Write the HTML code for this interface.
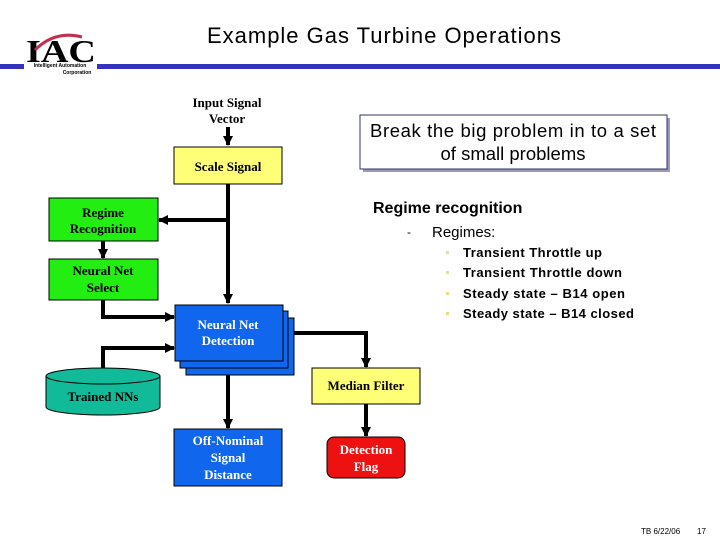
<!DOCTYPE html>
<html><head><style>
body{margin:0;background:#fff;width:720px;height:540px;overflow:hidden}
svg{display:block}
.s{font-family:"Liberation Serif",serif;font-weight:bold;font-size:13px}
.a{font-family:"Liberation Sans",sans-serif}
</style></head><body>
<svg width="720" height="540" viewBox="0 0 720 540" xmlns="http://www.w3.org/2000/svg">
<defs><marker id="m" markerWidth="10" markerHeight="10" refX="9" refY="5" orient="auto" markerUnits="userSpaceOnUse"><path d="M0,0 L10,5 L0,10z" fill="#000"/></marker></defs>
<!-- header -->
<text x="384" y="43" text-anchor="middle" class="a" font-size="22" fill="#000" textLength="354">Example Gas Turbine Operations</text>
<rect x="0" y="64" width="720" height="5" fill="#3333bb"/>
<rect x="24" y="60" width="73" height="18" fill="#fff"/>
<text x="61" y="62" text-anchor="middle" font-family="Liberation Serif,serif" font-weight="bold" font-size="32" fill="#000" textLength="70" lengthAdjust="spacingAndGlyphs">IAC</text>
<path d="M35,50 Q55,30 82,37" stroke="#c03050" stroke-width="3" fill="none"/>
<text x="60" y="67" text-anchor="middle" class="a" font-size="5" font-weight="bold">Intelligent Automation</text>
<text x="77" y="74" text-anchor="middle" class="a" font-size="5" font-weight="bold">Corporation</text>
<!-- input -->
<text x="227" y="107" text-anchor="middle" class="s">Input Signal</text>
<text x="227" y="123" text-anchor="middle" class="s">Vector</text>
<g stroke="#000" stroke-width="4" fill="none">
<line x1="228" y1="127" x2="228" y2="145" marker-end="url(#m)"/>
<line x1="228" y1="184" x2="228" y2="303" marker-end="url(#m)"/>
<line x1="228" y1="220" x2="159" y2="220" marker-end="url(#m)"/>
<line x1="103" y1="241" x2="103" y2="258" marker-end="url(#m)"/>
<polyline points="103,300 103,317 174,317" marker-end="url(#m)"/>
<polyline points="103,370 103,348 174,348" marker-end="url(#m)"/>
<polyline points="283,333 366,333 366,367" marker-end="url(#m)"/>
<line x1="366" y1="404" x2="366" y2="436" marker-end="url(#m)"/>
<line x1="228" y1="361" x2="228" y2="428" marker-end="url(#m)"/>
</g>
<rect x="174" y="147" width="108" height="37" fill="#ffff77" stroke="#000"/>
<text x="228" y="171" text-anchor="middle" class="s">Scale Signal</text>
<rect x="49" y="198" width="109" height="43" fill="#22ee11" stroke="#000"/>
<text x="103" y="217" text-anchor="middle" class="s">Regime</text>
<text x="103" y="233" text-anchor="middle" class="s">Recognition</text>
<rect x="49" y="259" width="109" height="41" fill="#22ee11" stroke="#000"/>
<text x="103" y="275" text-anchor="middle" class="s">Neural Net</text>
<text x="103" y="292" text-anchor="middle" class="s">Select</text>
<rect x="186" y="318" width="108" height="57" fill="#1166ee" stroke="#000"/>
<rect x="180" y="311" width="108" height="57" fill="#1166ee" stroke="#000"/>
<rect x="175" y="305" width="108" height="56" fill="#1166ee" stroke="#000"/>
<text x="228" y="329" text-anchor="middle" class="s" fill="#fff">Neural Net</text>
<text x="228" y="345" text-anchor="middle" class="s" fill="#fff">Detection</text>
<path d="M46,376 L46,407 A57,8 0 0 0 160,407 L160,376" fill="#11bb99" stroke="#000"/>
<ellipse cx="103" cy="376" rx="57" ry="8" fill="#11bb99" stroke="#000"/>
<text x="103" y="401" text-anchor="middle" class="s">Trained NNs</text>
<rect x="312" y="368" width="108" height="36" fill="#ffff77" stroke="#000"/>
<text x="366" y="390" text-anchor="middle" class="s">Median Filter</text>
<rect x="174" y="429" width="108" height="57" fill="#1166ee" stroke="#000"/>
<text x="228" y="445" text-anchor="middle" class="s" fill="#fff">Off-Nominal</text>
<text x="228" y="462" text-anchor="middle" class="s" fill="#fff">Signal</text>
<text x="228" y="479" text-anchor="middle" class="s" fill="#fff">Distance</text>
<rect x="327" y="437" width="78" height="41" rx="7" fill="#ee1111" stroke="#000"/>
<text x="366" y="454" text-anchor="middle" class="s" fill="#fff">Detection</text>
<text x="366" y="471" text-anchor="middle" class="s" fill="#fff">Flag</text>
<!-- right text -->
<rect x="363" y="118" width="307" height="54" fill="#9999bb"/>
<rect x="360" y="115" width="307" height="54" fill="#fff" stroke="#333366"/>
<text x="513" y="137" text-anchor="middle" class="a" font-size="18.5" textLength="286">Break the big problem in to a set</text>
<text x="513" y="160" text-anchor="middle" class="a" font-size="18.5">of small problems</text>
<text x="373" y="213" class="a" font-size="16" font-weight="bold">Regime recognition</text>
<text x="407" y="236" class="a" font-size="12">-</text>
<text x="432" y="237" class="a" font-size="15">Regimes:</text>
<g class="a" font-size="13" font-weight="bold">
<text x="463" y="257" textLength="139">Transient Throttle up</text>
<text x="463" y="277" textLength="159">Transient Throttle down</text>
<text x="463" y="298" textLength="162">Steady state – B14 open</text>
<text x="463" y="318" textLength="171">Steady state – B14 closed</text>
</g>
<g fill="#e8e080"><rect x="446" y="251" width="3" height="3"/><rect x="446" y="271" width="3" height="3"/><rect x="446" y="292" width="3" height="3"/><rect x="446" y="312" width="3" height="3"/></g>
<text x="641" y="534" class="a" font-size="8">TB 6/22/06</text>
<text x="697" y="534" class="a" font-size="8">17</text>
</svg>
</body></html>
